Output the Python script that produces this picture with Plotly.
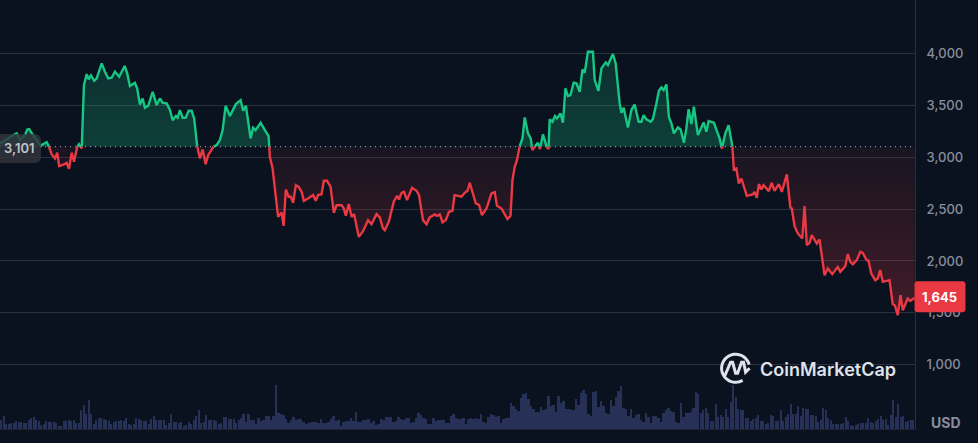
import numpy as np
import plotly.graph_objects as go

W, H = 978, 443
BASE = 3101
LAST = 1645

days = [0, 2, 5.3, 6.7, 8, 10, 10.9, 11.7, 12.9, 14.7, 16.3, 16.7, 18.7, 19.6, 20.7, 22, 22.9, 23.7, 25.6, 26.7,
        27.6, 28.7, 29.6, 30.9, 31.6, 32.7, 33.6, 34.7, 35.5, 36.4, 37.7, 38.7, 40.7, 42, 43.3, 44.7, 46, 47.7, 49.9, 50.9,
        52, 54, 54.9, 56, 57.1, 58, 59.3, 61.1, 62.7, 64, 65.1, 66.7, 68, 69.1, 70.4, 71.1, 72, 73.1, 74.3, 75.5,
        76.7, 77.7, 78.9, 80, 81.1, 82.3, 83.3, 85.3, 86.7, 88, 89.1, 90.3, 92, 94.4, 96.3, 97.3, 98.4, 100.3, 101.3, 102.3,
        104.3, 106, 107.5, 108, 109.1, 111.3, 112.7, 113.5, 114.4, 115.5, 116.4, 117.3, 118.4, 119.5, 120.7, 121.6, 123.3, 125.3, 126.4, 127.3,
        128.7, 129.6, 130.9, 132.3, 133.6, 134.7, 136.7, 137.6, 138.4, 139.6, 140.7, 141.7, 143.6, 145.3, 147.3, 148.7, 150.7, 152, 153.3, 154,
        155.6, 157.6, 158.9, 159.7, 160.7, 161.7, 162.9, 164.9, 166.7, 167.7, 169.3, 170.7, 172, 174, 174.9, 176, 177.1, 178.4, 179.7, 181.1,
        181.9, 184.7, 186, 187.1, 188, 190.4, 191.7, 192.9, 194.7, 196.7, 198, 198.9, 200.7, 203.1, 204.3, 205.1, 206, 206.9, 208, 209.1,
        210, 211.3, 212.4, 213.1, 214.7, 215.3, 216.1, 217.3, 218.7, 219.5, 220, 221.1, 222.1, 222.9, 224.3, 225.3, 226.3, 227.3, 228.3, 229.6,
        230.7, 232, 233.1, 234, 235.3, 237.3, 238, 239.5, 240.7, 242.4, 243.3, 245.3, 246.4, 248, 248.7, 249.6, 251.3, 252.7, 253.6, 254,
        255.6, 256.7, 257.6, 258.7, 260.4, 261.3, 262.7, 263.7, 264.7, 265.6, 266.7, 267.7, 268.7, 269.7, 271.3, 272.4, 273.7, 274.7, 275.6, 276.7,
        277.7, 279.3, 281.6, 282.7, 283.6, 285.7, 288, 288.9, 290.3, 291.6, 292.7, 293.1, 293.7, 294.7, 295.7, 296.7, 298.9, 301.3, 302, 302.9,
        303.7, 304.7, 305.6, 307.7, 308.8, 310, 311.7, 312.9, 314.9, 316.3, 316.9, 318, 319.3, 321.1, 322, 322.9, 324, 324.9, 326.9, 328,
        330, 331.3, 333.1, 335.3, 336.3, 338.3, 339.3, 340.3, 341.3, 342.9, 344.3, 345.3, 346.7, 347.6, 348.7, 350.3, 351.3, 352.3, 353.3, 356,
        357.3, 358.1, 359.3, 360.4, 361.3, 363.3, 364.3, 366]

prices = [3132, 3164, 3212, 3228, 3164, 3212, 3266, 3270, 3222, 3164, 3106, 3116, 3144, 3099, 3026, 2987, 3042, 2913, 2929, 2945,
          2888, 3042, 2955, 3099, 3125, 3083, 3694, 3799, 3748, 3787, 3735, 3758, 3902, 3822, 3758, 3764, 3822, 3774, 3877, 3806,
          3684, 3716, 3661, 3507, 3565, 3475, 3494, 3629, 3501, 3565, 3523, 3517, 3453, 3356, 3395, 3379, 3453, 3379, 3379, 3446,
          3446, 3372, 3106, 2987, 3074, 2932, 3019, 3099, 3116, 3164, 3260, 3494, 3395, 3510, 3549, 3446, 3494, 3180, 3282, 3260,
          3331, 3260, 3202, 3003, 2891, 2425, 2467, 2338, 2688, 2618, 2618, 2560, 2730, 2714, 2666, 2579, 2602, 2634, 2579, 2634,
          2643, 2772, 2772, 2714, 2464, 2537, 2537, 2505, 2435, 2547, 2425, 2451, 2232, 2287, 2393, 2354, 2451, 2419, 2313, 2297,
          2377, 2570, 2627, 2592, 2656, 2666, 2586, 2704, 2676, 2634, 2393, 2354, 2419, 2448, 2435, 2448, 2371, 2393, 2473, 2483,
          2634, 2618, 2656, 2676, 2753, 2554, 2541, 2441, 2505, 2650, 2663, 2531, 2505, 2403, 2432, 2778, 2907, 2971, 3106, 3180,
          3382, 3228, 3180, 3067, 3125, 3138, 3077, 3218, 3106, 3077, 3363, 3340, 3395, 3372, 3421, 3331, 3661, 3588, 3597, 3716,
          3710, 3629, 3844, 3812, 4015, 4015, 3742, 3639, 3854, 3912, 3886, 3992, 3902, 3517, 3427, 3475, 3286, 3453, 3501, 3507,
          3340, 3340, 3405, 3363, 3340, 3366, 3517, 3639, 3671, 3645, 3700, 3388, 3324, 3228, 3286, 3266, 3138, 3276, 3462, 3318,
          3485, 3212, 3334, 3244, 3347, 3331, 3180, 3083, 3228, 3308, 3148, 3106, 2881, 2891, 2746, 2794, 2627, 2640, 2666, 2608,
          2740, 2688, 2730, 2672, 2753, 2676, 2740, 2666, 2833, 2515, 2505, 2335, 2265, 2216, 2528, 2152, 2175, 2249, 2168, 2207,
          1863, 1927, 1873, 1943, 1895, 1950, 2066, 1992, 1969, 2008, 2088, 2078, 2014, 2001, 1879, 1815, 1831, 1911, 1799, 1815,
          1584, 1574, 1478, 1671, 1526, 1638, 1616, 1645]

volumes = [9, 13, 5, 5, 6, 6, 8, 7, 7, 6, 6, 9, 11, 12, 9, 8, 4, 5, 8, 7,
           7, 7, 6, 3, 3, 8, 8, 9, 8, 9, 6, 6, 19, 24, 15, 29, 15, 5, 9, 11,
           11, 10, 9, 8, 5, 7, 8, 8, 9, 8, 11, 5, 4, 5, 11, 10, 9, 8, 8, 5,
           10, 13, 9, 9, 9, 9, 4, 6, 15, 7, 7, 6, 7, 3, 4, 7, 5, 9, 13, 19,
           6, 7, 14, 9, 9, 9, 8, 5, 6, 12, 12, 10, 10, 10, 6, 9, 11, 15, 7, 15,
           9, 9, 5, 11, 8, 9, 13, 13, 9, 13, 44, 16, 15, 14, 10, 6, 9, 12, 9, 10,
           10, 7, 5, 6, 7, 7, 7, 6, 10, 6, 6, 7, 10, 13, 8, 9, 3, 7, 8, 8,
           11, 8, 17, 7, 7, 9, 9, 10, 6, 8, 4, 5, 10, 9, 12, 12, 12, 7, 8, 12,
           10, 9, 11, 11, 6, 7, 11, 16, 14, 11, 10, 5, 5, 11, 8, 9, 9, 9, 6, 6,
           13, 15, 11, 10, 10, 11, 5, 10, 11, 10, 11, 10, 15, 7, 6, 12, 15, 14, 12, 13,
           6, 10, 11, 11, 26, 23, 20, 18, 31, 35, 36, 30, 23, 20, 17, 17, 22, 19, 20, 33,
           23, 24, 17, 33, 26, 28, 20, 20, 19, 19, 30, 24, 36, 39, 35, 15, 13, 37, 38, 22,
           28, 23, 16, 15, 29, 23, 32, 38, 43, 21, 20, 13, 20, 11, 14, 15, 9, 7, 16, 12,
           6, 13, 13, 11, 7, 16, 19, 21, 18, 17, 7, 6, 26, 12, 16, 16, 17, 21, 37, 35,
           16, 19, 21, 16, 8, 8, 25, 12, 14, 12, 20, 12, 27, 44, 32, 20, 19, 19, 11, 11,
           8, 10, 11, 14, 8, 8, 5, 6, 14, 13, 8, 8, 19, 8, 12, 15, 25, 15, 15, 23,
           13, 21, 20, 20, 14, 14, 13, 7, 9, 21, 19, 11, 9, 5, 5, 5, 5, 6, 12, 8,
           4, 3, 4, 5, 6, 6, 6, 11, 7, 6, 8, 10, 13, 9, 10, 4, 14, 29, 12, 25,
           12, 13, 7, 8, 9, 9]

price_ticks = [1000, 1500, 2000, 2500, 3000, 3500, 4000]
bar_days = np.arange(len(volumes)) + 0.5

# split the line where it crosses the open price
xs, ys = [days[0]], [prices[0]]
for i in range(1, len(days)):
    p0, p1 = prices[i - 1], prices[i]
    if (p0 - BASE) * (p1 - BASE) < 0:
        xs.append(days[i - 1] + (BASE - p0) / (p1 - p0) * (days[i] - days[i - 1]))
        ys.append(BASE)
    xs.append(days[i])
    ys.append(p1)
xs, ys = np.array(xs), np.array(ys, dtype=float)

GREEN, RED = "#16c784", "#ea3943"
BG = "#0b121f"

# plot area in picture pixels
L, R, T, B = 0, 915.5, 0, 428.7


def px(x, y):
    # picture pixels to paper coordinates
    return (x - L) / (R - L), 1 - (y - T) / (B - T)


def path_of(points, close=False):
    parts = []
    for i, (x, y) in enumerate(points):
        a, b = px(x, y)
        parts.append(f"{'M' if i == 0 else 'L'}{a:.5f},{b:.5f}")
    return " ".join(parts) + (" Z" if close else "")


def round_box(x0, y0, x1, y1, r):
    pts = []
    for cx, cy, start in [(x1 - r, y0 + r, -90), (x1 - r, y1 - r, 0), (x0 + r, y1 - r, 90), (x0 + r, y0 + r, 180)]:
        for a in np.radians(np.linspace(start, start + 90, 6)):
            pts.append((cx + r * np.cos(a), cy + r * np.sin(a)))
    return path_of(pts, close=True)


def label(text, x, y, size, color, weight):
    a, b = px(x, y)
    return dict(text=text, xref="paper", yref="paper", x=a, y=b, showarrow=False,
                xanchor="center", yanchor="middle",
                font=dict(family="Inter", size=size, color=color, weight=weight))


fig = go.Figure()

fig.add_trace(go.Bar(x=bar_days, y=volumes, yaxis="y2", width=0.9, marker=dict(color="#273157", line_width=0),
                     hoverinfo="skip"))

# green side
up = np.maximum(ys, BASE)
fig.add_trace(go.Scatter(x=xs, y=np.full(len(xs), BASE), mode="lines", line=dict(width=0, color=BG), hoverinfo="skip"))
fig.add_trace(go.Scatter(x=xs, y=up, mode="lines", line=dict(width=0, color=GREEN), fill="tonexty",
                         fillgradient=dict(type="vertical", start=4000, stop=BASE,
                                           colorscale=[[0, "rgba(22,199,132,0.16)"], [1, "rgba(22,199,132,0.25)"]]),
                         hoverinfo="skip"))
# red side
down = np.minimum(ys, BASE)
fig.add_trace(go.Scatter(x=xs, y=np.full(len(xs), BASE), mode="lines", line=dict(width=0, color=BG), hoverinfo="skip"))
fig.add_trace(go.Scatter(x=xs, y=down, mode="lines", line=dict(width=0, color=RED), fill="tonexty",
                         fillgradient=dict(type="vertical", start=BASE, stop=1500,
                                           colorscale=[[0, "rgba(234,57,67,0.06)"], [1, "rgba(234,57,67,0.24)"]]),
                         hoverinfo="skip"))

fig.add_trace(go.Scatter(x=xs, y=np.where(ys >= BASE, ys, np.nan), mode="lines", connectgaps=False,
                         line=dict(color=GREEN, width=2.4), hoverinfo="skip"))
fig.add_trace(go.Scatter(x=xs, y=np.where(ys <= BASE, ys, np.nan), mode="lines", connectgaps=False,
                         line=dict(color=RED, width=2.4), hoverinfo="skip"))

tick_font = dict(family="Inter", size=13, color="#878e9c", weight=500)

# logo ring and wave
ring = [(736 + 14 * np.cos(a), 368 + 14 * np.sin(a)) for a in np.radians(np.linspace(60, 345, 40))]
wave = [(725, 376), (731, 362), (733, 362), (736, 373), (738, 373), (742, 362), (744, 362), (746, 372), (750, 368)]

fig.update_layout(
    width=W, height=H,
    margin=dict(l=L, r=W - R, t=T, b=H - B),
    paper_bgcolor=BG, plot_bgcolor=BG,
    showlegend=False,
    bargap=0,
    xaxis=dict(range=[0, 366.2], showgrid=False, zeroline=False, showticklabels=False, ticks="",
               showline=True, linecolor="#1c2433", linewidth=1),
    yaxis=dict(range=[382.4, 4512.5], side="right", tickvals=price_ticks, tickformat=",", tickfont=tick_font,
               gridcolor="#2a303c", gridwidth=1, zeroline=False, showline=True, linecolor="#2a303c", linewidth=1,
               ticks="", ticklabelstandoff=8),
    yaxis2=dict(range=[0, 428.7], overlaying="y", visible=False),
    shapes=[
        dict(type="line", xref="paper", x0=0, x1=1, yref="y", y0=BASE, y1=BASE,
             line=dict(color="#8f95a1", width=1.2, dash="1px,4px")),
        dict(type="path", xref="paper", yref="paper", path=round_box(-6, 134, 41, 163, 6),
             fillcolor="rgba(50,52,60,0.82)", line_width=0),
        dict(type="path", xref="paper", yref="paper", path=round_box(915, 281, 966, 312, 3),
             fillcolor=RED, line_width=0),
        dict(type="path", xref="paper", yref="paper", path=path_of(ring), line=dict(color="#dfe3ea", width=3)),
        dict(type="path", xref="paper", yref="paper", path=path_of(wave), line=dict(color="#dfe3ea", width=3)),
    ],
    annotations=[
        label("3,101", 20, 148, 13, "#bfc3cb", 600),
        label(f"{LAST:,}", 940.5, 297, 13, "#ffffff", 700),
        label("USD", 947, 422, 14, "#878e9c", 700),
        label("CoinMarketCap", 828, 369, 18, "#dfe3ea", 600),
    ],
)

fig.write_html("out.html", config={"displayModeBar": False},
               post_script="document.body.style.margin='0';document.body.style.overflow='hidden';")
